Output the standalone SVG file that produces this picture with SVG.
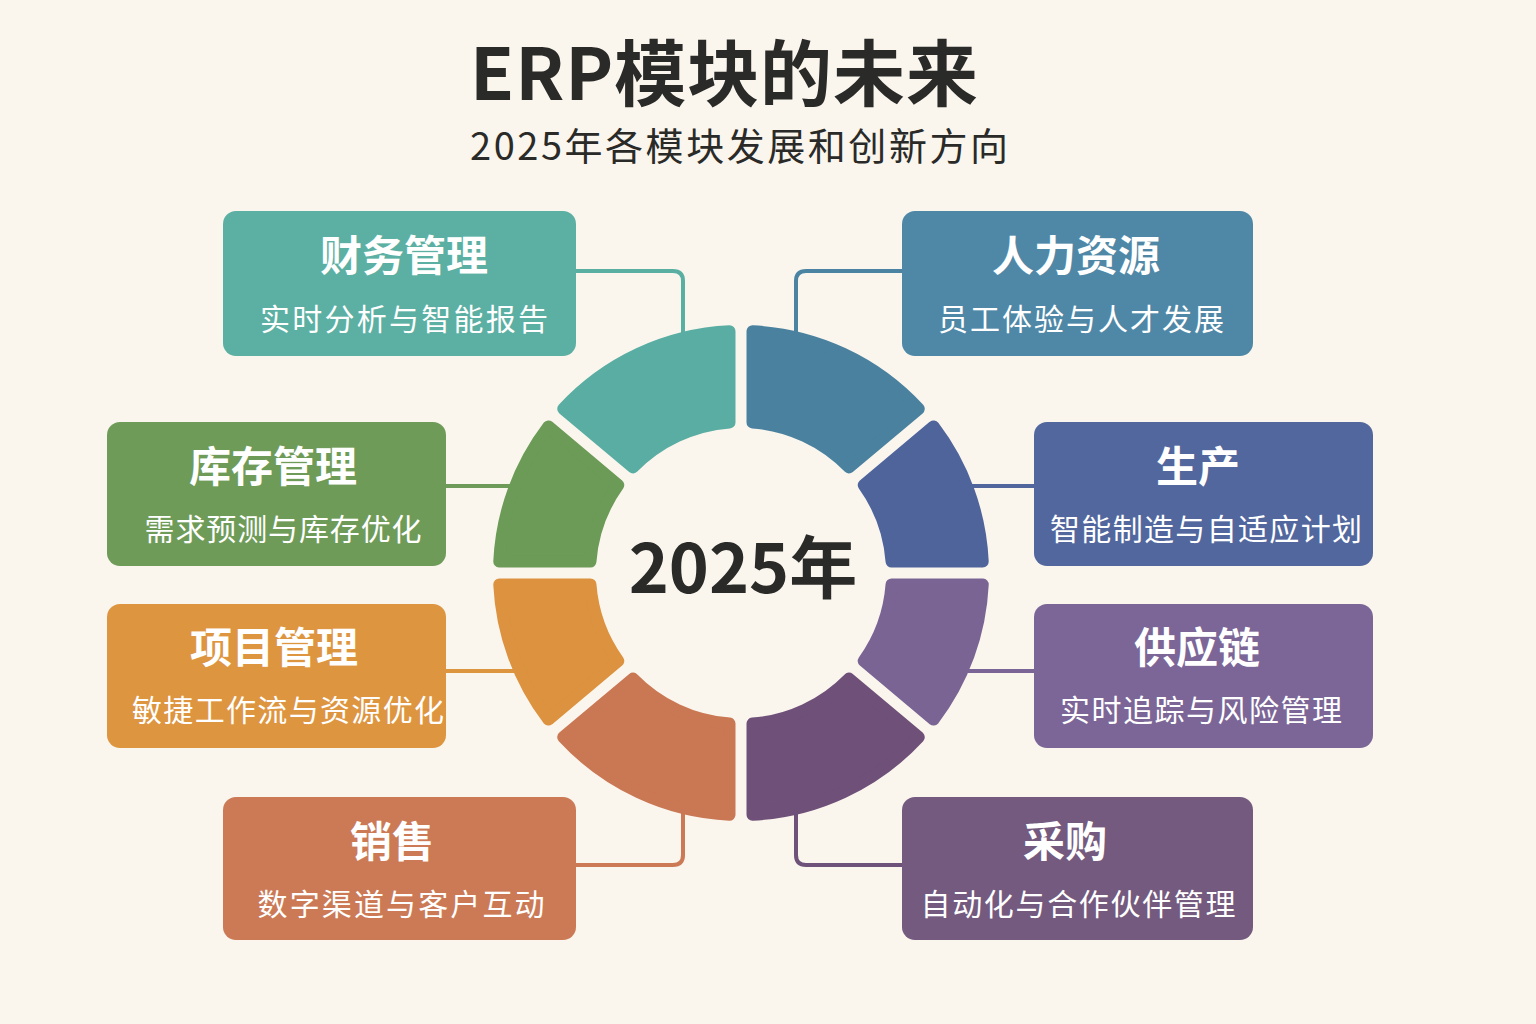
<svg xmlns="http://www.w3.org/2000/svg" width="1536" height="1024" viewBox="0 0 1536 1024">
<style>
.bg{fill:#faf6ee}
.box{stroke:none}
.seg{stroke-width:12;stroke-linejoin:round}
.conn{fill:none;stroke-width:4;stroke-linejoin:round}
.t1{font-family:"Noto Sans CJK SC","Noto Sans",sans-serif;font-weight:700;font-size:42px;fill:#ffffff;text-anchor:middle}
.t2{font-family:"Noto Sans CJK SC","Noto Sans",sans-serif;font-weight:400;font-size:30px;fill:#ffffff;text-anchor:middle}
.title{font-family:"Noto Sans CJK SC","Noto Sans",sans-serif;font-weight:700;font-size:72px;fill:#2a2a28;text-anchor:middle}
.sub{font-family:"Noto Sans CJK SC","Noto Sans",sans-serif;font-weight:400;font-size:38px;fill:#2a2a28;text-anchor:middle}
.center{font-family:"Noto Sans CJK SC","Noto Sans",sans-serif;font-weight:700;font-size:68px;fill:#2a2a28;text-anchor:middle}
</style>
<rect class="bg" x="0" y="0" width="1536" height="1024"/>
<g id="title">
<text class="title" x="724" y="100" textLength="508" lengthAdjust="spacing">ERP模块的未来</text>
<text class="sub" x="739" y="160" textLength="538" lengthAdjust="spacing">2025年各模块发展和创新方向</text>
</g>
<g id="connectors">
<path class="conn" stroke="#5aafa3" d="M576,271 H673 Q683,271 683,281 V335"/>
<path class="conn" stroke="#4b84a3" d="M902,271 H806 Q796,271 796,281 V335"/>
<path class="conn" stroke="#6e9b59" d="M446,486 H515"/>
<path class="conn" stroke="#50669d" d="M1034,486 H968"/>
<path class="conn" stroke="#de9540" d="M446,671 H515"/>
<path class="conn" stroke="#7a6596" d="M1034,671 H968"/>
<path class="conn" stroke="#cb7a55" d="M576,865 H673 Q683,865 683,855 V810"/>
<path class="conn" stroke="#6e5279" d="M902,865 H806 Q796,865 796,855 V810"/>
</g>
<g id="ring">
<path class="seg" fill="#4f649b" stroke="#4f649b" d="M982.73,561.5 A242,242 0 0 0 933.56,426.43 L863.72,485.03 A151,151 0 0 1 891.56,561.5 Z"/>
<path class="seg" fill="#4a819f" stroke="#4a819f" d="M918.78,408.81 A242,242 0 0 0 752.5,331.27 L752.5,422.44 A151,151 0 0 1 848.94,467.41 Z"/>
<path class="seg" fill="#5aada2" stroke="#5aada2" d="M729.5,331.27 A242,242 0 0 0 563.22,408.81 L633.06,467.41 A151,151 0 0 1 729.5,422.44 Z"/>
<path class="seg" fill="#6c9a57" stroke="#6c9a57" d="M548.44,426.43 A242,242 0 0 0 499.27,561.5 L590.44,561.5 A151,151 0 0 1 618.28,485.03 Z"/>
<path class="seg" fill="#dc923e" stroke="#dc923e" d="M499.27,584.5 A242,242 0 0 0 548.44,719.57 L618.28,660.97 A151,151 0 0 1 590.44,584.5 Z"/>
<path class="seg" fill="#ca7753" stroke="#ca7753" d="M563.22,737.19 A242,242 0 0 0 729.5,814.73 L729.5,723.56 A151,151 0 0 1 633.06,678.59 Z"/>
<path class="seg" fill="#6f5079" stroke="#6f5079" d="M752.5,814.73 A242,242 0 0 0 918.78,737.19 L848.94,678.59 A151,151 0 0 1 752.5,723.56 Z"/>
<path class="seg" fill="#7a6494" stroke="#7a6494" d="M933.56,719.57 A242,242 0 0 0 982.73,584.5 L891.56,584.5 A151,151 0 0 1 863.72,660.97 Z"/>
<text class="center" x="743" y="593">2025年</text>
</g>
<g id="node-finance">
<rect class="box" x="223" y="211" width="353" height="145" rx="13" fill="#5bb0a3"/>
<text class="t1" x="404" y="271">财务管理</text>
<text class="t2" x="404" y="330" textLength="288" lengthAdjust="spacing">实时分析与智能报告</text>
</g>
<g id="node-hr">
<rect class="box" x="902" y="211" width="351" height="145" rx="13" fill="#4f88a7"/>
<text class="t1" x="1076" y="271">人力资源</text>
<text class="t2" x="1081" y="330" textLength="286" lengthAdjust="spacing">员工体验与人才发展</text>
</g>
<g id="node-inventory">
<rect class="box" x="107" y="422" width="339" height="144" rx="13" fill="#6f9b59"/>
<text class="t1" x="273" y="482">库存管理</text>
<text class="t2" x="283" y="540" textLength="277" lengthAdjust="spacing">需求预测与库存优化</text>
</g>
<g id="node-production">
<rect class="box" x="1034" y="422" width="339" height="144" rx="13" fill="#52679d"/>
<text class="t1" x="1198" y="482">生产</text>
<text class="t2" x="1206" y="540" textLength="312" lengthAdjust="spacing">智能制造与自适应计划</text>
</g>
<g id="node-project">
<rect class="box" x="107" y="604" width="339" height="144" rx="13" fill="#de9540"/>
<text class="t1" x="274" y="663">项目管理</text>
<text class="t2" x="288" y="721" textLength="312" lengthAdjust="spacing">敏捷工作流与资源优化</text>
</g>
<g id="node-supply">
<rect class="box" x="1034" y="604" width="339" height="144" rx="13" fill="#7b6697"/>
<text class="t1" x="1197" y="663">供应链</text>
<text class="t2" x="1201" y="721" textLength="282" lengthAdjust="spacing">实时追踪与风险管理</text>
</g>
<g id="node-sales">
<rect class="box" x="223" y="797" width="353" height="143" rx="13" fill="#cb7a55"/>
<text class="t1" x="392" y="857">销售</text>
<text class="t2" x="401" y="915" textLength="287" lengthAdjust="spacing">数字渠道与客户互动</text>
</g>
<g id="node-procurement">
<rect class="box" x="902" y="797" width="351" height="143" rx="13" fill="#735a7e"/>
<text class="t1" x="1065" y="857">采购</text>
<text class="t2" x="1078" y="915" textLength="315" lengthAdjust="spacing">自动化与合作伙伴管理</text>
</g>
</svg>
